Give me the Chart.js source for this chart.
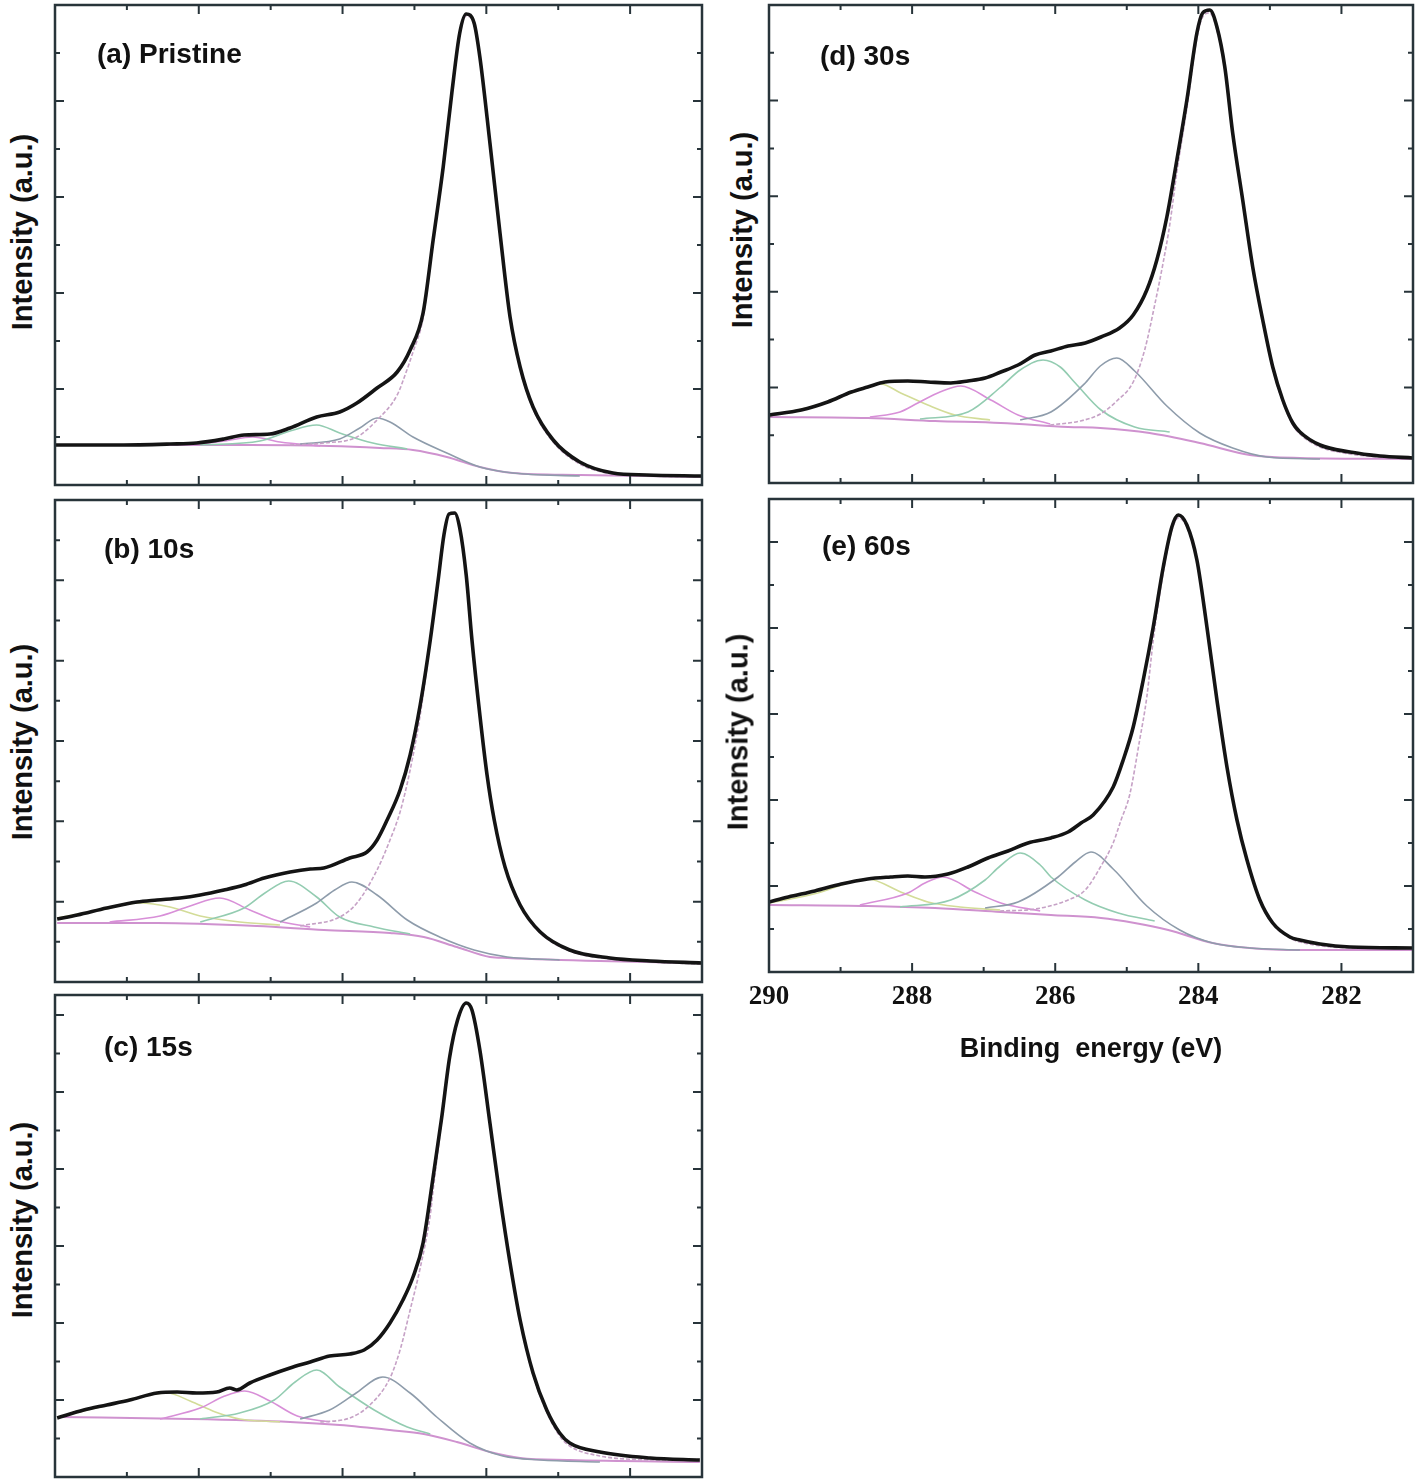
<!DOCTYPE html>
<html lang="en">
<head>
<meta charset="UTF-8">
<title>C 1s XPS spectra</title>
<script src="https://cdn.jsdelivr.net/npm/chart.js"></script>
<style>
  body { margin: 0; background: #fff; width: 1418px; height: 1484px; position: relative; overflow: hidden;
         font-family: "Liberation Sans", Arial, sans-serif; color: #111; }
  canvas { position: absolute; }
  .ylab { position: absolute; font-weight: bold; font-size: 29px; white-space: nowrap;
          transform: translate(-50%, -50%) rotate(-90deg); }
  .plab { position: absolute; font-weight: bold; font-size: 28px; white-space: nowrap; transform: translateY(-50%); }
</style>
</head>
<body>
<script>
// binding energy (eV), intensity (a.u.)
const xTickValues = [290, 288, 286, 284, 282];
const xTickLabels = ['290', '288', '286', '284', '282'];

// (a) Pristine
const envA = [[290.00,40],[289.10,40],[288.40,41],[288.03,42],[287.65,46],[287.37,50],[287.01,51],[286.73,57],[286.36,68],[286.04,73],[285.80,82],[285.52,97],[285.24,113],[285.06,135],[284.88,172],[284.74,245],[284.60,318],[284.48,392],[284.37,452],[284.28,471],[284.17,462],[284.09,428],[283.95,342],[283.81,252],[283.67,168],[283.53,118],[283.35,78],[283.07,45],[282.70,23],[282.24,12],[281.77,10],[281.00,9]];
const mainA = [[286.73,40],[286.26,42],[285.80,48],[285.52,65],[285.24,90],[285.13,110],[285.02,133],[284.88,167],[284.74,243],[284.60,316],[284.48,390],[284.37,450],[284.28,469],[284.17,460],[284.09,426],[283.95,340],[283.81,250],[283.67,166],[283.53,116],[283.35,76],[283.07,43],[282.70,21],[282.24,11],[281.77,9],[281.00,8]];
const greyA = [[286.59,41],[286.04,46],[285.76,57],[285.52,67],[285.34,63],[285.02,48],[284.55,32],[284.09,18],[283.63,12],[282.70,9]];
const greenA = [[287.98,40],[287.15,44],[286.73,54],[286.36,60],[286.04,52],[285.58,42],[285.10,36]];
const magA = [[288.12,40],[287.64,44],[287.25,48],[286.87,43],[286.31,39]];
const bgA = [[290.00,40],[287.29,40],[286.18,39],[285.48,37],[285.02,35],[284.55,28],[284.09,18],[283.63,12],[282.70,10],[281.00,8]];

// (b) 10s
const envB = [[289.97,63],[289.69,67],[289.28,74],[288.86,80],[288.58,82],[288.26,84],[287.98,87],[287.65,92],[287.37,97],[287.09,104],[286.73,110],[286.45,113],[286.26,114],[285.90,124],[285.66,130],[285.52,142],[285.38,162],[285.20,192],[285.06,227],[284.92,277],[284.78,342],[284.67,402],[284.59,447],[284.52,468],[284.44,469],[284.37,454],[284.28,407],[284.20,342],[284.09,267],[283.99,207],[283.89,162],[283.74,115],[283.53,77],[283.25,50],[282.84,32],[282.28,24],[281.72,21],[281.00,19]];
const mainB = [[286.59,56],[286.04,65],[285.80,79],[285.52,112],[285.34,142],[285.20,170],[285.06,212],[284.92,267],[284.78,340],[284.67,401],[284.59,446],[284.52,467],[284.44,468],[284.37,453],[284.28,406],[284.20,341],[284.09,266],[283.99,206],[283.89,161],[283.74,114],[283.53,76],[283.25,49],[282.84,31],[282.28,23],[281.72,20],[281.00,18]];
const greyB = [[286.87,60],[286.36,79],[286.11,92],[285.87,100],[285.52,87],[285.10,62],[284.65,45],[284.17,32],[283.71,25],[282.98,22]];
const greenB = [[287.98,60],[287.37,74],[287.08,89],[286.75,101],[286.36,85],[286.04,65],[285.56,55],[285.06,48]];
const magB = [[289.24,60],[288.54,66],[288.12,76],[287.71,84],[287.29,72],[286.94,62],[286.45,55]];
const yelB = [[289.97,64],[289.37,72],[288.82,79],[288.40,75],[287.98,66],[287.43,60],[286.87,57]];
const bgB = [[289.97,59],[288.58,59],[287.19,56],[286.26,52],[285.34,49],[284.87,45],[284.41,35],[283.95,25],[283.71,24],[282.42,21],[281.00,19]];

// (c) 15s
const envC = [[289.97,59],[289.60,67],[289.28,72],[288.96,77],[288.58,84],[288.30,85],[288.03,84],[287.75,85],[287.57,89],[287.47,87],[287.29,94],[287.01,102],[286.73,109],[286.45,115],[286.18,121],[285.90,123],[285.70,127],[285.52,137],[285.34,154],[285.16,177],[285.02,200],[284.88,234],[284.74,300],[284.62,360],[284.51,420],[284.40,457],[284.28,474],[284.20,467],[284.09,427],[283.95,354],[283.81,280],[283.67,214],[283.53,157],[283.35,104],[283.16,67],[282.98,44],[282.84,34],[282.42,25],[281.72,19],[281.03,17]];
const mainC = [[286.31,55],[285.90,59],[285.62,72],[285.34,99],[285.20,127],[285.06,167],[284.92,209],[284.78,262],[284.74,287],[284.62,357],[284.51,419],[284.40,456],[284.28,473],[284.20,466],[284.09,426],[283.95,353],[283.81,279],[283.67,213],[283.53,155],[283.35,102],[283.16,65],[282.98,41],[282.84,31],[282.42,21],[281.72,17],[281.03,16]];
const greyC = [[286.59,58],[286.18,67],[285.83,83],[285.44,100],[285.06,84],[284.69,60],[284.23,34],[283.77,21],[283.25,17],[282.42,15]];
const greenC = [[287.98,58],[287.43,64],[286.95,77],[286.66,95],[286.36,107],[286.04,90],[285.56,67],[285.10,50],[284.78,43]];
const magC = [[288.54,58],[287.98,69],[287.64,81],[287.36,86],[287.01,76],[286.63,61],[286.18,55]];
const yelC = [[289.97,60],[289.37,70],[288.82,80],[288.44,84],[288.12,76],[287.77,65],[287.43,58],[286.87,55]];
const bgC = [[289.97,60],[288.12,58],[286.73,55],[286.04,52],[285.34,47],[284.87,43],[284.41,35],[283.95,25],[283.53,19],[282.84,17],[281.03,15]];

// (d) 30s
const envD = [[290.00,68],[289.55,73],[289.18,81],[288.85,91],[288.62,96],[288.38,101],[288.06,102],[287.78,101],[287.46,100],[287.22,102],[286.98,105],[286.76,111],[286.52,118],[286.28,128],[286.06,132],[285.82,137],[285.58,140],[285.36,146],[285.10,155],[284.91,168],[284.72,193],[284.58,223],[284.44,266],[284.30,323],[284.16,383],[284.02,450],[283.94,470],[283.84,473],[283.74,456],[283.63,416],[283.52,350],[283.38,283],[283.24,216],[283.10,163],[282.96,116],[282.82,83],[282.68,60],[282.58,51],[282.30,38],[281.88,31],[281.46,27],[281.00,25]];
const mainD = [[286.07,58],[285.65,62],[285.37,69],[285.14,82],[284.91,101],[284.75,133],[284.61,178],[284.49,221],[284.40,258],[284.30,311],[284.16,375],[284.02,445],[283.94,466],[283.84,470],[283.74,453],[283.63,413],[283.52,348],[283.38,281],[283.24,214],[283.10,161],[282.96,114],[282.82,81],[282.68,58],[282.58,49],[282.30,36],[281.88,29],[281.46,26],[281.00,24]];
const greyD = [[286.49,63],[286.06,71],[285.58,100],[285.37,117],[285.14,125],[284.89,112],[284.44,77],[283.98,50],[283.52,35],[283.04,26],[282.30,24]];
const greenD = [[287.89,64],[287.22,71],[286.76,96],[286.49,113],[286.17,123],[285.93,116],[285.72,100],[285.36,73],[284.89,56],[284.40,51]];
const magD = [[288.59,66],[288.17,71],[287.92,80],[287.61,91],[287.32,97],[286.90,83],[286.52,68],[286.07,59]];
const yelD = [[290.00,67],[289.32,78],[288.85,90],[288.44,99],[288.16,90],[287.78,78],[287.40,68],[286.91,63]];
const bgD = [[290.00,66],[288.62,65],[287.68,62],[286.76,60],[285.82,56],[285.37,55],[284.68,50],[283.98,40],[283.28,28],[282.58,25],[281.00,24]];

// (e) 60s
const envE = [[290.00,70],[289.73,75],[289.36,81],[288.99,88],[288.62,93],[288.30,95],[288.06,96],[287.82,95],[287.50,98],[287.22,105],[286.94,114],[286.66,121],[286.38,129],[286.06,134],[285.82,140],[285.64,149],[285.47,157],[285.19,185],[285.05,212],[284.91,245],[284.77,292],[284.63,345],[284.49,405],[284.37,445],[284.28,457],[284.16,447],[284.02,412],[283.88,345],[283.74,272],[283.60,205],[283.46,152],[283.32,112],[283.14,72],[282.96,49],[282.72,35],[282.58,32],[282.30,28],[281.88,25],[281.00,24]];
const mainE = [[286.77,61],[286.28,63],[285.82,72],[285.58,82],[285.36,106],[285.19,129],[285.08,152],[284.96,177],[284.82,232],[284.72,275],[284.63,332],[284.49,400],[284.37,442],[284.28,454],[284.16,445],[284.02,410],[283.88,344],[283.74,271],[283.60,204],[283.46,151],[283.32,111],[283.14,71],[282.96,48],[282.72,34],[282.58,30],[281.88,24],[281.00,23]];
const greyE = [[286.98,64],[286.52,70],[285.96,95],[285.72,110],[285.50,120],[285.19,103],[284.72,66],[284.26,42],[283.80,29],[283.28,24],[282.58,22]];
const greenE = [[288.17,65],[287.46,72],[286.98,92],[286.77,106],[286.49,119],[286.21,107],[286.06,95],[285.58,72],[285.12,59],[284.61,51]];
const magE = [[288.73,67],[288.06,79],[287.82,89],[287.57,95],[287.12,80],[286.76,69],[286.21,61]];
const yelE = [[290.00,69],[289.32,79],[288.94,88],[288.62,93],[288.16,80],[287.78,70],[287.33,65],[286.77,62]];
const bgE = [[290.00,67],[288.62,66],[287.68,64],[286.76,60],[286.06,57],[285.36,54],[284.89,49],[284.42,42],[283.80,29],[283.28,24],[282.58,22],[281.00,22]];

// page layout of the five panels (plot frame in page pixels)
const panels = [
  { label: '(a) Pristine', left: 55,  top: 5,   width: 647, height: 480, step: 48,    curves: [envA, mainA, greyA, greenA, magA, null, bgA], lab: [97, 54],   ylab: [22, 232] },
  { label: '(b) 10s',      left: 55,  top: 500, width: 647, height: 482, step: 40.17, curves: [envB, mainB, greyB, greenB, magB, yelB, bgB], lab: [104, 549], ylab: [22, 742] },
  { label: '(c) 15s',      left: 55,  top: 995, width: 647, height: 482, step: 38.5,  curves: [envC, mainC, greyC, greenC, magC, yelC, bgC], lab: [104, 1047], ylab: [22, 1220] },
  { label: '(d) 30s',      left: 769, top: 5,   width: 644, height: 478, step: 47.8,  curves: [envD, mainD, greyD, greenD, magD, yelD, bgD], lab: [820, 56],  ylab: [742, 230] },
  { label: '(e) 60s',      left: 769, top: 499, width: 644, height: 473, step: 43,    curves: [envE, mainE, greyE, greenE, magE, yelE, bgE], lab: [822, 546], ylab: [738, 732], xAxis: true }
];

// envelope, main sp2 peak, then the smaller fitted components and background
const styles = [
  { color: '#141414', width: 3.6 },
  { color: '#c6a2c6', width: 1.6, dash: [4, 2] },
  { color: '#8e9cab', width: 1.6 },
  { color: '#93ccb1', width: 1.6 },
  { color: '#d88fd8', width: 1.6 },
  { color: '#d3dc98', width: 1.6 },
  { color: '#cf92cf', width: 2 }
];

const PAD = 6;
const XEXTRA = 113;   // room under panel (e) for tick labels and axis title
const XLEFT = 40;     // room left of panel (e) so "290" is not cut

const framePlugin = {
  id: 'frame',
  afterDraw(chart, args, opts) {
    const { ctx, chartArea: a } = chart;
    const x = chart.scales.x, y = chart.scales.y;
    ctx.save();
    ctx.strokeStyle = '#28343a';
    ctx.lineWidth = 2.5;
    ctx.strokeRect(a.left, a.top, a.right - a.left, a.bottom - a.top);
    ctx.lineWidth = 2;
    ctx.beginPath();
    for (let e = 289; e >= 282; e--) {
      const px = x.getPixelForValue(e);
      const len = e % 2 === 0 ? 9 : 5;
      ctx.moveTo(px, a.bottom); ctx.lineTo(px, a.bottom - len);
      ctx.moveTo(px, a.top); ctx.lineTo(px, a.top + len);
    }
    for (let j = 1; opts.step * j < y.max - 2; j++) {
      const py = y.getPixelForValue(opts.step * j);
      const len = j % 2 === 0 ? 9 : 5;
      ctx.moveTo(a.left, py); ctx.lineTo(a.left + len, py);
      ctx.moveTo(a.right, py); ctx.lineTo(a.right - len, py);
    }
    ctx.stroke();
    if (opts.xAxis) {
      ctx.fillStyle = '#111';
      ctx.textAlign = 'center';
      ctx.textBaseline = 'middle';
      ctx.font = 'bold 27px "Liberation Serif", "Times New Roman", serif';
      xTickValues.forEach((v, i) => ctx.fillText(xTickLabels[i], x.getPixelForValue(v), a.bottom + 25));
      ctx.font = 'bold 27px "Liberation Sans", Arial, sans-serif';
      ctx.fillText('Binding  energy (eV)', (a.left + a.right) / 2, a.bottom + 78);
    }
    ctx.restore();
  }
};

panels.forEach(p => {
  const canvas = document.createElement('canvas');
  const extraB = p.xAxis ? XEXTRA : 0;
  const extraL = p.xAxis ? XLEFT : 0;
  canvas.width = p.width + 2 * PAD + extraL;
  canvas.height = p.height + 2 * PAD + extraB;
  canvas.style.left = (p.left - PAD - extraL) + 'px';
  canvas.style.top = (p.top - PAD) + 'px';
  document.body.appendChild(canvas);

  const datasets = [];
  p.curves.forEach((pts, i) => {
    if (!pts) return;
    datasets.push({
      data: pts.map(d => ({ x: d[0], y: d[1] })),
      borderColor: styles[i].color,
      borderWidth: styles[i].width,
      borderDash: styles[i].dash || [],
      pointRadius: 0,
      fill: false,
      cubicInterpolationMode: 'monotone'
    });
  });

  new Chart(canvas, {
    type: 'line',
    data: { datasets },
    options: {
      responsive: false,
      animation: false,
      layout: { padding: { left: PAD + extraL, right: PAD, top: PAD, bottom: PAD + extraB } },
      scales: {
        x: { type: 'linear', min: 281, max: 290, reverse: true, display: false },
        y: { type: 'linear', min: 0, max: p.height, display: false }
      },
      plugins: {
        legend: { display: false },
        tooltip: { enabled: false },
        frame: { step: p.step, xAxis: !!p.xAxis }
      }
    },
    plugins: [framePlugin]
  });

  const lab = document.createElement('div');
  lab.className = 'plab';
  lab.textContent = p.label;
  lab.style.left = p.lab[0] + 'px';
  lab.style.top = p.lab[1] + 'px';
  document.body.appendChild(lab);

  const yl = document.createElement('div');
  yl.className = 'ylab';
  yl.textContent = 'Intensity (a.u.)';
  yl.style.left = p.ylab[0] + 'px';
  yl.style.top = p.ylab[1] + 'px';
  document.body.appendChild(yl);
});
</script>
</body>
</html>
